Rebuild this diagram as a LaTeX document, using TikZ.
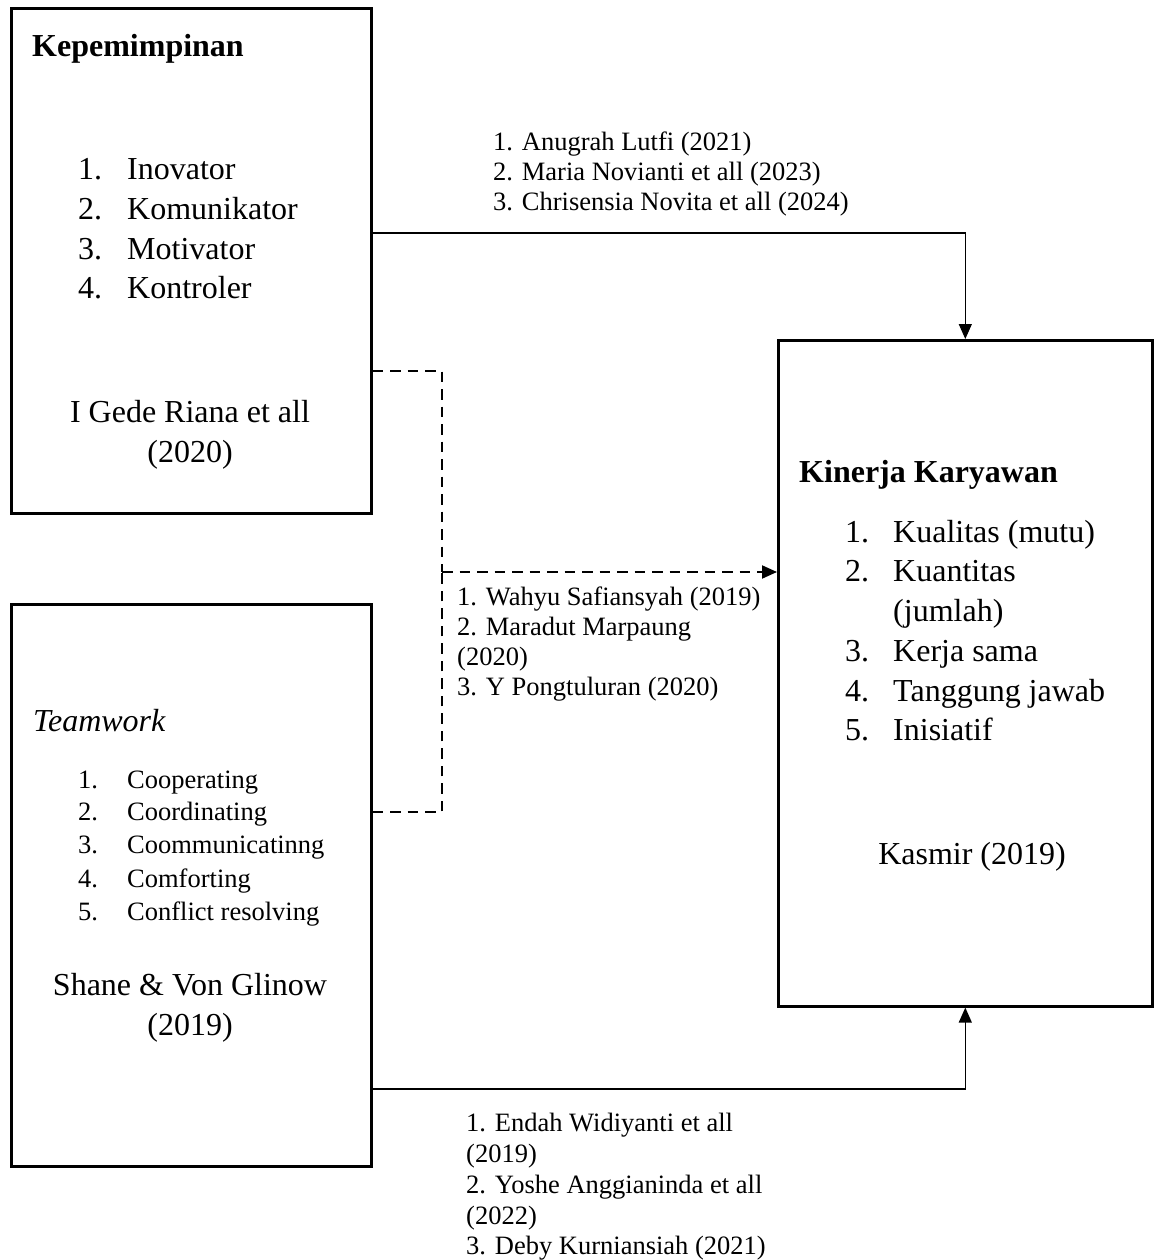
\documentclass[tikz,border=0pt]{standalone}
\usepackage{fontspec}
\setmainfont{Liberation Serif}
\usetikzlibrary{arrows.meta}
\tikzset{
  boxnode/.style={draw=black, line width=2.6pt, anchor=north west, inner sep=0pt},
  bigtxt/.style={font=\fontsize{32}{40}\selectfont, inner sep=0pt, anchor=base west},
  bigc/.style={font=\fontsize{32}{40}\selectfont, inner sep=0pt, anchor=base},
  smalltxt/.style={font=\fontsize{26.5}{30}\selectfont, inner sep=0pt, anchor=base west},
  conn/.style={draw=black, line width=1.3pt},
  dashconn/.style={draw=black, line width=2pt, dash pattern=on 10.5pt off 7pt},
  tip/.style={-{Triangle[length=15pt,width=13pt]}}
}
\begin{document}
\begin{tikzpicture}[x=1pt,y=-1pt]
\useasboundingbox (0,0) rectangle (1153,1260);
% boxes
\node[boxnode, minimum width=360pt, minimum height=505pt] (kep) at (10,7) {};
\node[boxnode, minimum width=360pt, minimum height=562pt] (tw) at (10,603) {};
\node[boxnode, minimum width=374pt, minimum height=666pt] (kin) at (777,339) {};
% Kepemimpinan box text
\node[bigtxt] (kephead) at (32,57) {\textbf{Kepemimpinan}};
\foreach \n/\t/\y in {1/Inovator/180, 2/Komunikator/219.5, 3/Motivator/259, 4/Kontroler/298.5}{
  \node[bigtxt] (kepn\n) at (78,\y) {\n.};
  \node[bigtxt] (kept\n) at (127,\y) {\t};
}
\node[bigc] (kepref1) at (190,422) {I Gede Riana et all};
\node[bigc] (kepref2) at (190,462) {(2020)};
% Teamwork box text
\node[bigtxt] (twhead) at (33,731) {\textit{Teamwork}};
\foreach \n/\t/\y in {1/Cooperating/788, 2/Coordinating/820, 3/Coommunicatinng/853, 4/Comforting/887, 5/Conflict resolving/920}{
  \node[smalltxt] (twn\n) at (78,\y) {\n.};
  \node[smalltxt] (twt\n) at (127,\y) {\t};
}
\node[bigc] (twref1) at (190,995) {Shane \& Von Glinow};
\node[bigc] (twref2) at (190,1035) {(2019)};
% Kinerja box text
\node[bigtxt] (kinhead) at (799,482) {\textbf{Kinerja Karyawan}};
\node[bigtxt] (kinn1) at (845,542) {1.};
\node[bigtxt] (kint1) at (893,542) {Kualitas (mutu)};
\node[bigtxt] (kinn2) at (845,581) {2.};
\node[bigtxt] (kint2) at (893,581) {Kuantitas};
\node[bigtxt] (kint2b) at (893,621) {(jumlah)};
\node[bigtxt] (kinn3) at (845,661) {3.};
\node[bigtxt] (kint3) at (893,661) {Kerja sama};
\node[bigtxt] (kinn4) at (845,701) {4.};
\node[bigtxt] (kint4) at (893,701) {Tanggung jawab};
\node[bigtxt] (kinn5) at (845,740) {5.};
\node[bigtxt] (kint5) at (893,740) {Inisiatif};
\node[bigc] (kinref) at (972,864) {Kasmir (2019)};
% labels
\node[smalltxt] (la1) at (493,151) {1. Anugrah Lutfi (2021)};
\node[smalltxt] (la2) at (493,181) {2. Maria Novianti et all (2023)};
\node[smalltxt] (la3) at (493,210) {3. Chrisensia Novita et all (2024)};
\node[smalltxt] (lb1) at (457,605) {1. Wahyu Safiansyah (2019)};
\node[smalltxt] (lb2) at (457,635) {2. Maradut Marpaung};
\node[smalltxt] (lb3) at (457,665) {(2020)};
\node[smalltxt] (lb4) at (457,695) {3. Y Pongtuluran (2020)};
\node[smalltxt] (lc1) at (466,1131) {1. Endah Widiyanti et all};
\node[smalltxt] (lc2) at (466,1162) {(2019)};
\node[smalltxt] (lc3) at (466,1193) {2. Yoshe Anggianinda et all};
\node[smalltxt] (lc4) at (466,1224) {(2022)};
\node[smalltxt] (lc5) at (466,1254) {3. Deby Kurniansiah (2021)};
% connectors
\coordinate (ytop) at (0,233);
\coordinate (ybot) at (0,1089);
\coordinate (yd1) at (0,371);
\coordinate (yd2) at (0,812);
\coordinate (junc) at (442,572);
\draw[conn, tip] (kep.east |- ytop) -| (kin.north);
\draw[conn, tip] (tw.east |- ybot) -| (kin.south);
\draw[dashconn] (kep.east |- yd1) -| (junc);
\draw[dashconn] (tw.east |- yd2) -| (junc);
\draw[dashconn, tip] (junc) -- (kin.west |- junc);
\end{tikzpicture}
\end{document}
